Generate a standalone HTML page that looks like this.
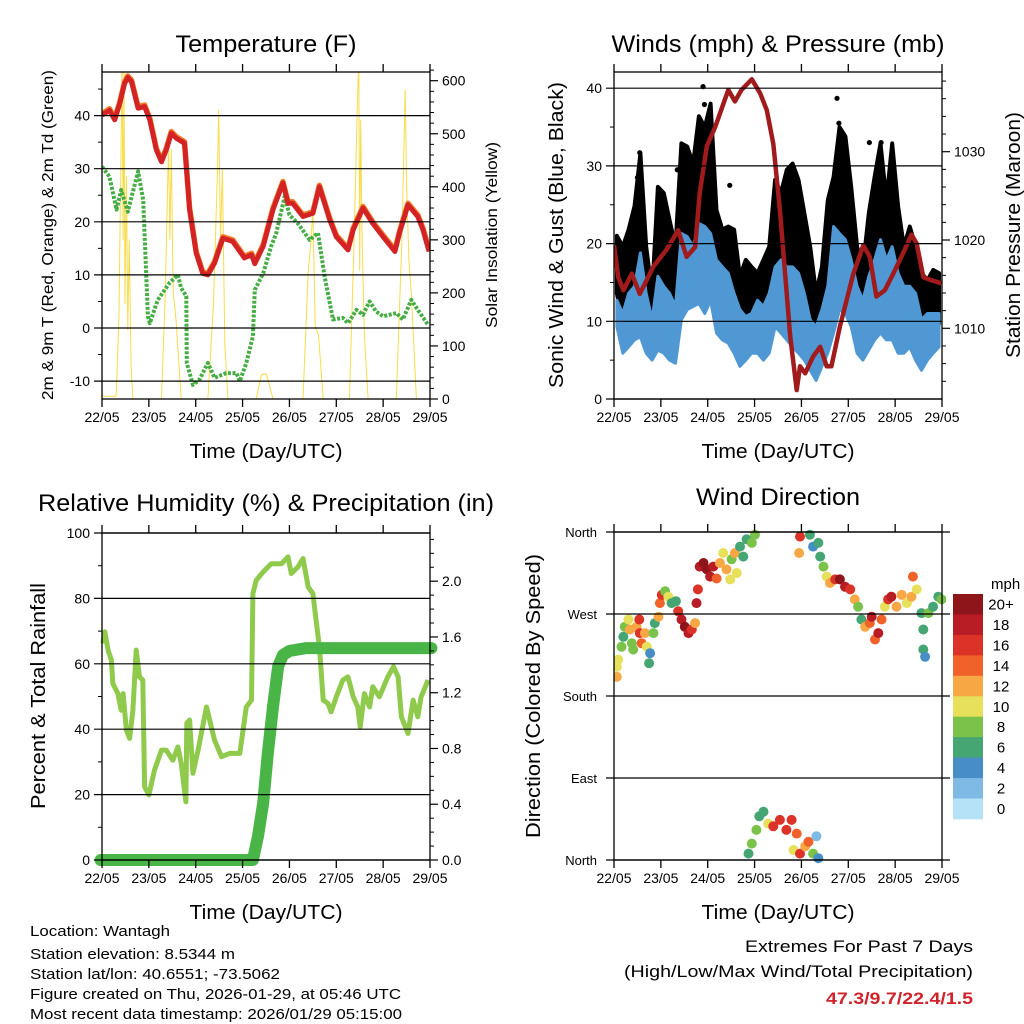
<!DOCTYPE html>
<html><head><meta charset="utf-8">
<style>
html,body{margin:0;padding:0;background:#fff;}
svg{display:block;font-family:"Liberation Sans",Arial,sans-serif;}
</style></head>
<body>
<svg id="fig" width="1024" height="1024" viewBox="0 0 1024 1024" xmlns="http://www.w3.org/2000/svg">
<rect x="0" y="0" width="1024" height="1024" fill="#fff"/>
<defs>
<clipPath id="c1"><rect x="102" y="72" width="328" height="327"/></clipPath>
<clipPath id="c2"><rect x="614" y="72" width="328" height="327"/></clipPath>
<clipPath id="c3"><rect x="90" y="533" width="355" height="335"/></clipPath>
<clipPath id="c4"><rect x="614" y="528" width="332" height="336"/></clipPath>
</defs>
<g id="layer"></g>
<text x="266" y="52" font-size="24" text-anchor="middle" textLength="181" lengthAdjust="spacingAndGlyphs">Temperature (F)</text>
<text x="778" y="52" font-size="24" text-anchor="middle" textLength="333" lengthAdjust="spacingAndGlyphs">Winds (mph) &amp; Pressure (mb)</text>
<text x="266" y="511" font-size="24" text-anchor="middle" textLength="456" lengthAdjust="spacingAndGlyphs">Relative Humidity (%) &amp; Precipitation (in)</text>
<text x="778" y="505" font-size="24" text-anchor="middle" textLength="164" lengthAdjust="spacingAndGlyphs">Wind Direction</text>
<text x="266" y="458" font-size="20" text-anchor="middle" textLength="153" lengthAdjust="spacingAndGlyphs">Time (Day/UTC)</text>
<text x="778" y="458" font-size="20" text-anchor="middle" textLength="153" lengthAdjust="spacingAndGlyphs">Time (Day/UTC)</text>
<text x="266" y="919" font-size="20" text-anchor="middle" textLength="153" lengthAdjust="spacingAndGlyphs">Time (Day/UTC)</text>
<text x="778" y="919" font-size="20" text-anchor="middle" textLength="153" lengthAdjust="spacingAndGlyphs">Time (Day/UTC)</text>
<text transform="translate(53,235) rotate(-90)" font-size="16" text-anchor="middle" textLength="330" lengthAdjust="spacingAndGlyphs">2m &amp; 9m T (Red, Orange) &amp; 2m Td (Green)</text>
<text transform="translate(497,235) rotate(-90)" font-size="16" text-anchor="middle" textLength="186" lengthAdjust="spacingAndGlyphs">Solar Insolation (Yellow)</text>
<text transform="translate(563,235) rotate(-90)" font-size="20" text-anchor="middle" textLength="306" lengthAdjust="spacingAndGlyphs">Sonic Wind &amp; Gust (Blue, Black)</text>
<text transform="translate(1020,235) rotate(-90)" font-size="20" text-anchor="middle" textLength="246" lengthAdjust="spacingAndGlyphs">Station Pressure (Maroon)</text>
<text transform="translate(45,696) rotate(-90)" font-size="20" text-anchor="middle" textLength="226" lengthAdjust="spacingAndGlyphs">Percent &amp; Total Rainfall</text>
<text transform="translate(540,696) rotate(-90)" font-size="20" text-anchor="middle" textLength="284" lengthAdjust="spacingAndGlyphs">Direction (Colored By Speed)</text>
<text x="991" y="589" font-size="15">mph</text>
<g font-size="15">
<text x="30" y="936" textLength="140" lengthAdjust="spacingAndGlyphs">Location: Wantagh</text>
<text x="30" y="959" textLength="205" lengthAdjust="spacingAndGlyphs">Station elevation: 8.5344 m</text>
<text x="30" y="979" textLength="250" lengthAdjust="spacingAndGlyphs">Station lat/lon: 40.6551; -73.5062</text>
<text x="30" y="999" textLength="371" lengthAdjust="spacingAndGlyphs">Figure created on Thu, 2026-01-29, at 05:46 UTC</text>
<text x="30" y="1019" textLength="372" lengthAdjust="spacingAndGlyphs">Most recent data timestamp: 2026/01/29 05:15:00</text>
</g>
<g font-size="17" text-anchor="end">
<text x="973" y="952" textLength="228" lengthAdjust="spacingAndGlyphs">Extremes For Past 7 Days</text>
<text x="973" y="977" textLength="349" lengthAdjust="spacingAndGlyphs">(High/Low/Max Wind/Total Precipitation)</text>
<text x="973" y="1004" fill="#d0232a" font-weight="bold" textLength="147" lengthAdjust="spacingAndGlyphs">47.3/9.7/22.4/1.5</text>
</g>
</svg>
<script>
// ---------- data ----------
const dayLabels = ["22/05","23/05","24/05","25/05","26/05","27/05","28/05","29/05"];
const tempTicks = [-10,0,10,20,30,40];
const solarTicks = [0,100,200,300,400,500,600];
const windTicks = [0,10,20,30,40];
const presTicks = [1010,1020,1030];
const rhTicks = [0,20,40,60,80,100];
const rainTicks = ["0.0","0.4","0.8","1.2","1.6","2.0"];
const dirLabels = ["North","East","South","West","North"];
const dirTicks = [0,90,180,270,360];
const speedBins = ["0","2","4","6","8","10","12","14","16","18","20+"];
const speedColors = ["#b6e2f8","#7ebae3","#488ec6","#45a573","#7bc24b","#e6e05a","#f7a845","#f0622a","#db3327","#b81c24","#8e1519"];

const tempT = [0,.16,.27,.38,.48,.55,.63,.77,.91,1.02,1.16,1.27,1.37,1.48,1.59,1.76,1.87,2.01,2.15,2.26,2.4,2.58,2.79,3.04,3.19,3.26,3.44,3.65,3.86,3.97,4.07,4.29,4.5,4.64,4.86,5,5.25,5.36,5.57,5.78,6,6.25,6.35,6.53,6.74,6.85,6.98];
const tempV = [40.1,41,39.2,42.3,46,47.2,46.4,41.4,41.7,39.2,33.5,31.3,33.5,36.7,35.7,34.8,22.3,14.1,10.3,10,12.2,16.9,16.3,13.2,13.8,12.1,15.4,22.3,27.3,23.5,23.5,21,21.6,26.6,20.4,17.2,14.7,18.5,22.6,19.7,17.2,14.4,17.9,23.2,21,18.5,14.4];
const dewT = [0,.16,.31,.41,.55,.77,.88,.98,1.02,1.19,1.44,1.62,1.69,1.8,1.81,1.94,2.08,2.26,2.4,2.65,2.87,2.94,3.08,3.22,3.26,3.44,3.61,3.72,3.9,4.0,4.18,4.43,4.61,4.75,4.93,5.14,5.25,5.43,5.57,5.71,5.85,6,6.28,6.42,6.6,6.74,6.96];
const dewV = [30.4,28.5,22.3,26,21.9,29.5,24.1,2.2,0.9,5.3,8.5,10,7.5,6,-6.6,-10.7,-9.7,-6.6,-9.4,-8.5,-8.5,-10,-6.6,-1.6,7.2,10.3,15.4,17.9,24.8,21.3,19.7,16.6,17.9,9.7,1.6,1.9,0.9,3.4,2.5,5,3.1,2.2,2.8,1.6,5.3,3.4,0.6];
const solarT = [0,0.3,0.36,0.4,0.43,0.45,0.47,0.49,0.52,0.55,0.58,0.62,0.66, 1.27,1.35,1.42,1.45,1.48,1.52,1.58,1.69, 2.26,2.38,2.46,2.49,2.53,2.57,2.62,2.69, 3.29,3.4,3.5,3.56,3.65, 4.29,4.4,4.46,4.5,4.55,4.62,4.72, 5.28,5.38,5.45,5.48,5.5,5.52,5.55,5.6,5.68, 6.28,6.4,6.47,6.5,6.55,6.6,6.71,7];
const solarV = [5,5,150,420,640,300,620,180,420,130,300,60,0, 0,200,480,300,470,200,150,0, 0,180,420,545,300,432,105,0, 0,45,48,30,0, 0,240,300,357,137,120,0, 0,300,560,640,243,526,300,120,0, 0,300,583,400,262,200,0,0];
const presT = [0,.09,.2,.38,.55,.84,1.12,1.37,1.55,1.73,1.83,1.98,2.16,2.44,2.58,2.72,2.94,3.12,3.26,3.4,3.54,3.76,3.9,3.97,4.08,4.25,4.4,4.54,4.64,4.82,5.11,5.32,5.46,5.6,5.78,5.96,6.17,6.35,6.46,6.6,6.74,6.99];
const presV = [1019.4,1015.8,1014.3,1016.2,1013.9,1017,1018.9,1021.1,1018.1,1019.2,1025.3,1030.6,1032.8,1037,1035.7,1037,1038.2,1036.6,1034.7,1030.9,1023.4,1009.1,1003,1005.7,1004.9,1006.8,1007.9,1005.7,1005.7,1010.2,1016.2,1019.4,1018.1,1013.6,1014.3,1016.2,1018.5,1020.6,1019.6,1015.8,1015.5,1015.1];
const gustHi = [21,19.6,21.8,24.8,31.6,19.6,13.6,27.3, 26.5,23,19.6,32.9,32.5,30.3,36.4,35, 38,24.3,21.8,22.2,21.8,15.8,17.9,17, 16.2,17.9,19.6,28.2,26.5,29.5,30.3,28.2, 23.9,19.6,13.6,17,25.6,28.6,35,33.8, 27.3,19.6,17,23.9,28.6,32.9,25.6,32.9, 24.8,19.6,22.2,19.6,16.2,15.3,16.6,16.2];
const gustLo = [13.6,9.7,12.7,15.8,16.2,10.2,8,15.8, 13.6,12.7,10.2,17.9,19.6,17,18.8,22.2, 19.6,12.7,11,11,11.9,9.3,10.2,9.7, 10.2,9.3,11,15.8,14.5,16.2,15.8,14.5, 13.6,9.3,7.6,9.3,13.6,16.2,19.6,18.8, 15.8,11,9.3,13.6,15.3,17,15.8,16.2, 13.6,11.9,12.7,10.2,8.5,9.3,11,9.7];
const windHi = [12.7,11,13.6,14.5,18.8,13.6,10.2,15.8, 14.5,13.6,11.9,21.3,20.9,19.6,22.6,22.2, 21.3,17.9,17,16.2,13.6,11.5,10.6,11, 12.7,11.9,13.6,17,17.9,17,17,16.2, 13.6,10.2,9.3,11.5,14.5,22.2,21.3,20.5, 17.9,14.5,12.7,15.8,17.9,20.5,17.9,19.6, 16.2,14.5,14.5,13.6,10.2,11,11,11];
const windLo = [9.3,5.9,6.7,7.6,8,5.9,5,6.3, 5.9,5,4.6,10.2,11.5,11.9,12.3,11, 12.7,8.5,7.6,7.2,5.9,4.2,5,5.9, 5.9,5,5.9,9.3,8.5,7.6,6.7,5.9, 5,3.7,2.4,4.2,5.9,8.5,11.5,11, 9.3,5.9,5,6.3,7.6,8.5,7.6,7.6, 5.9,5.9,6.7,5,3.7,5,5.9,6.7];
const gustDotT = [0.55,0.5,1.9,1.93,4.76,4.8,2.47,5.45,5.7,1.35,0.95,3.75];
const gustDotV = [31.7,28.5,40.2,37.9,38.7,35.5,27.5,33,33,29.5,26.5,29];
const rhT = [.02,.06,.13,.2,.23,.34,.41,.45,.52,.59,.66,.73,.8,.87,.91,1.0,1.12,1.27,1.37,1.51,1.62,1.69,1.79,1.81,1.87,1.94,2.05,2.23,2.4,2.55,2.72,2.94,3.08,3.19,3.22,3.29,3.44,3.61,3.83,3.97,4.04,4.18,4.29,4.4,4.5,4.57,4.64,4.72,4.82,4.89,5.0,5.14,5.25,5.36,5.46,5.51,5.6,5.71,5.78,5.92,6.1,6.22,6.32,6.39,6.53,6.64,6.74,6.81,6.96];
const rhV = [66.2,69.8,64.2,61.1,54,50.9,45.8,50.9,39.7,37.2,45.8,64.2,56,55,22.4,19.9,27.5,33.6,33.6,30.5,34.6,29.5,17.8,41.8,42.8,26.5,33.6,46.8,36.7,31.6,32.6,32.6,46.8,48.9,81.5,85.5,88.1,90.6,90.6,92.7,87.6,89.6,92.2,83.5,81.5,73.3,65.2,48.9,47.9,45.3,49.9,55,56,49.9,46.8,40.7,50.9,46.8,53,49.9,56,59.1,56,43.8,38.7,48.9,43.8,49.9,55];
const rainT = [-0.03,3.22,3.33,3.44,3.54,3.65,3.76,3.86,4.0,4.36,7.03];
const rainV = [0,0,0.17,0.41,0.77,1.1,1.39,1.47,1.5,1.52,1.52];
const wdT = [.06,.06,.09,.16,.2,.23,.31,.34,.38,.41,.48,.54,.55,.59,.66,.7,.75,.77,.84,.87,.95,.98,1.02,1.09,1.16,1.23,1.32,1.37,1.44,1.51,1.59,1.66,1.73,1.76,1.79,1.83,1.91,1.98,2.05,2.12,2.19,2.26,2.33,2.4,2.48,2.51,2.58,2.62,2.69,2.76,2.83,2.94,3.01,3.95,3.97,4.18,4.25,4.36,4.4,4.47,4.54,4.61,4.72,4.82,4.93,5.04,5.14,5.21,5.28,5.36,5.46,5.5,5.57,5.64,5.71,5.78,5.85,5.92,6.03,6.14,6.25,6.35,6.38,6.46,6.56,6.6,6.6,6.64,6.71,6.81,6.92,6.99,2.87,2.94,3.04,3.1,3.19,3.29,3.4,3.54,3.68,3.79,3.9,3.83,3.97,4.08,4.15,4.25,4.32,4.36];
const wdDir = [212,201,220,234,245,256,264,253,238,231,256,264,249,238,249,234,216,227,249,260,267,282,291,295,289,282,284,273,264,256,249,253,260,282,297,322,326,319,311,322,309,326,337,319,308,330,337,315,344,333,352,348,357,337,355,357,344,348,333,322,311,304,308,308,300,297,286,278,264,256,260,267,242,249,264,278,286,289,278,291,282,289,311,297,271,253,231,223,271,278,289,286,7,18,33,48,53,40,37,44,33,44,29,11,7,15,20,7,26,2];
const wdSpd = [11,12,10,8,7,9,11,12,9,9,13,17,16,15,12,11,6,4,8,7,12,14,16,8,10,7,6,16,18,20,19,16,12,18,17,19,20,20,19,18,14,12,10,12,11,9,13,10,7,6,7,8,9,12,17,6,5,6,7,8,10,13,17,20,19,17,12,9,6,13,15,19,14,18,15,10,16,18,13,12,10,12,14,11,6,7,6,5,8,7,6,8,7,8,9,7,6,11,16,17,16,17,15,11,16,12,14,8,3,4];

// ---------- scales ----------
const P1={x:102,y:72,w:328,h:327}, P2={x:614,y:72,w:328,h:327}, P3={x:102,y:533,w:328,h:327}, P4={x:614,y:532,w:328,h:328};
const xs=(P,d)=>P.x+d*P.w/7;
const yTemp=v=>328-v*5.31;
const ySolar=v=>399-v*0.5305;
const yWind=v=>399-v*7.77;
const yPres=v=>328.3-(v-1010)*8.83;
const yRh=v=>860-v*3.27;
const yRain=v=>860-v*139.4;
const yDir=v=>860-v*328/360;

const NS="http://www.w3.org/2000/svg";
const layer=document.getElementById('layer');
function el(tag,attrs,parent){const e=document.createElementNS(NS,tag);for(const k in attrs)e.setAttribute(k,attrs[k]);(parent||layer).appendChild(e);return e;}
function grp(clip){const g=el('g',clip?{'clip-path':'url(#'+clip+')'}:{});return g;}
function pathFrom(T,V,P,yf){return T.map((t,i)=>(i?'L':'M')+xs(P,t).toFixed(1)+','+yf(V[i]).toFixed(1)).join(' ');}

// ---------- panel 1: temperature ----------
let g=grp('c1');
let solar=el('path',{d:pathFrom(solarT,solarV,P1,ySolar),fill:'none',stroke:'#f8dc4a','stroke-width':1,'stroke-linejoin':'round'},g);


let dew=el('path',{d:pathFrom(dewT,dewV,P1,yTemp),fill:'none',stroke:'#46ad45','stroke-width':4,'stroke-dasharray':'3 1.6','stroke-linejoin':'round'},g);


let t9=el('path',{d:pathFrom(tempT,tempV,P1,yTemp),fill:'none',stroke:'#f47d2a','stroke-width':5.5,'stroke-linejoin':'round',transform:'translate(0,-1.5)'},g);


let t2=el('path',{d:pathFrom(tempT,tempV,P1,yTemp),fill:'none',stroke:'#d42324','stroke-width':5,'stroke-linejoin':'round'},g);



// ---------- panel 2: winds ----------
g=grp('c2');
const nb=gustHi.length, bw=7/nb;
let gp='';
gustHi.forEach((v,i)=>{gp+=(i?'L':'M')+xs(P2,(i+0.5)*bw).toFixed(1)+','+yWind(v).toFixed(1);});
for(let i=nb-1;i>=0;i--)gp+='L'+xs(P2,(i+0.5)*bw).toFixed(1)+','+yWind(gustLo[i]).toFixed(1);
let gb=el('path',{d:gp+'Z',fill:'#000',stroke:'#000','stroke-width':4,'stroke-linejoin':'round'},g);


gustDotT.forEach((t,i)=>{const c=el('circle',{cx:xs(P2,t),cy:yWind(gustDotV[i]),r:2.6,fill:'#000'},g);

});
let wp='';
windHi.forEach((v,i)=>{wp+=(i?'L':'M')+xs(P2,(i+0.5)*bw).toFixed(1)+','+yWind(v).toFixed(1);});
for(let i=nb-1;i>=0;i--)wp+='L'+xs(P2,(i+0.5)*bw).toFixed(1)+','+yWind(windLo[i]).toFixed(1);
let wb=el('path',{d:wp+'Z',fill:'#4f98d3',stroke:'#4f98d3','stroke-width':3,'stroke-linejoin':'round'},g);


let pr=el('path',{d:pathFrom(presT,presV,P2,yPres),fill:'none',stroke:'#a11b1d','stroke-width':4.5,'stroke-linejoin':'round'},g);



// ---------- panel 3: humidity ----------
g=grp('c3');
let rh=el('path',{d:pathFrom(rhT,rhV,P3,yRh),fill:'none',stroke:'#8fca4d','stroke-width':5,'stroke-linejoin':'round'},g);


let rn=el('path',{d:pathFrom(rainT,rainV,P3,yRain),fill:'none',stroke:'#4ab547','stroke-width':12,'stroke-linejoin':'round','stroke-linecap':'round'},g);



// ---------- panel 4: wind direction ----------
g=grp('c4');
wdT.forEach((t,i)=>{const k=Math.min(10,Math.floor(wdSpd[i]/2));
const c=el('circle',{cx:xs(P4,t).toFixed(1),cy:yDir(wdDir[i]).toFixed(1),r:5,fill:speedColors[k]},g);

});

// colorbar
speedBins.forEach((lab,i)=>{const k=10-i; const y=594+i*20.45;
const r=el('rect',{x:953,y:y,width:30,height:20.9,fill:speedColors[k]});


const tx=el('text',{x:1001,y:y+15.5,'font-size':15,'text-anchor':'middle'});tx.textContent=speedBins[k];

});

// ---------- axes ----------
function line(x1,y1,x2,y2,w,col,name){const l=el('line',{x1,y1,x2,y2,stroke:col||'#000','stroke-width':w||1});

return l;}
function txt(x,y,s,anchor,size,name){const t=el('text',{x,y,'font-size':size||14,'text-anchor':anchor||'middle'});t.textContent=s;

return t;}
function frame(P){const r=el('rect',{x:P.x,y:P.y,width:P.w,height:P.h,fill:'none',stroke:'#000','stroke-width':1.3});

}
function xAxis(P){dayLabels.forEach((lab,i)=>{const x=xs(P,i);
line(x,P.y+P.h,x,P.y+P.h+8,1.3,'#000','x-tick');line(x,P.y-8,x,P.y,1.3,'#000','x-tick');
txt(x,P.y+P.h+23,lab,'middle',14,'x-tick-label');});}
function leftAxis(P,ticks,yf,minor,grid,lab){ticks.forEach(v=>{const y=yf(v);
line(P.x-8,y,grid?P.x+P.w:P.x,y,1.2,'#000',grid?'gridline':'y-tick');
txt(P.x-12,y+5,lab?lab(v):String(v),'end',14,'y-tick-label');});
minor.forEach(v=>line(P.x-4,yf(v),P.x,yf(v),1,'#000','y-minor-tick'));}
function rightAxis(P,ticks,yf,minor,labels){ticks.forEach((v,i)=>{const y=yf(v);
line(P.x+P.w,y,P.x+P.w+8,y,1.2,'#000','y2-tick');
txt(P.x+P.w+12,y+5,labels?labels[i]:String(v),'start',14,'y2-tick-label');});
minor.forEach(v=>line(P.x+P.w,yf(v),P.x+P.w+4,yf(v),1,'#000','y2-minor-tick'));}

// panel 1
frame(P1);xAxis(P1);
leftAxis(P1,tempTicks,yTemp,[-5,5,15,25,35,45],true);
let sm=[];for(let v=20;v<=620;v+=20)if(v%100)sm.push(v);
rightAxis(P1,solarTicks,ySolar,sm);
// panel 2
frame(P2);xAxis(P2);
leftAxis(P2,windTicks,yWind,[5,15,25,35],true);
let pm=[];for(let v=1004;v<=1040;v+=2)if(v%10)pm.push(v);
rightAxis(P2,presTicks,yPres,pm);
// panel 3
frame(P3);xAxis(P3);
leftAxis(P3,rhTicks,yRh,[10,30,50,70,90],true);
let rm=[];for(let v=0.1;v<2.35;v+=0.1){if(Math.abs(v*10%4)>0.01&&Math.abs(v*10%4-4)>0.01)rm.push(v);}
rightAxis(P3,rainTicks.map(Number),yRain,rm,rainTicks);
// panel 4
frame(P4);xAxis(P4);
dirTicks.forEach((v,i)=>{const y=yDir(v);line(P4.x-8,y,P4.x+P4.w+8,y,1.2,'#000','direction-gridline');
txt(P4.x-17,y+5,dirLabels[i],'end',13,'direction-label');});
</script>
</body></html>
